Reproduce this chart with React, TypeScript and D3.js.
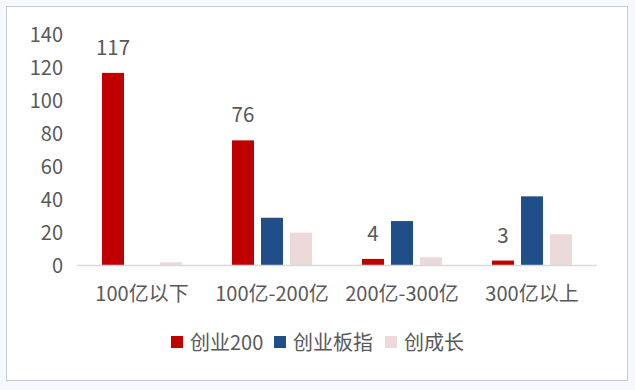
import React from "react";
import * as d3 from "d3";

const categories = ["100亿以下", "100亿-200亿", "200亿-300亿", "300亿以上"];
const seriesNames = ["创业200", "创业板指", "创成长"];
const cy200 = [117, 76, 4, 3];
const cybz = [0, 29, 27, 42];
const ccz = [2, 20, 5, 19];
const yTicks = [0, 20, 40, 60, 80, 100, 120, 140];

const colors = ["#c00000", "#1f4e89", "#ecd9da"];
const FONT = "'Noto Sans CJK SC', 'Noto Sans', sans-serif";
const TEXT = "#595959";

export default function App() {
  const W = 635, H = 390;
  const x = d3.scaleBand<string>().domain(categories).range([77, 597]).paddingInner(0);
  const y = d3.scaleLinear().domain([0, 140]).range([265.5, 35]);
  const series = [cy200, cybz, ccz];
  const barW = 22, step = 29;
  const legendX = [171, 274, 385];

  return (
    <div style={{ position: "absolute", left: 0, top: 0 }}>
      <svg width={W} height={H} style={{ display: "block" }}>
        <rect x={0} y={0} width={W} height={H} fill="#f5f9fd" />
        <rect x={6.5} y={6.5} width={621} height={374} fill="#ffffff" stroke="#c9cbce" strokeWidth={1} />
        {yTicks.map((t) => (
          <text key={t} x={63} y={y(t)} dy="0.35em" textAnchor="end" fontFamily={FONT} fontSize={20} fill={TEXT}>
            {t}
          </text>
        ))}
        {series.map((vals, si) =>
          vals.map((v, ci) => {
            const cx = (x(categories[ci]) as number) + x.bandwidth() / 2;
            const bx = cx - step + si * step - barW / 2;
            return (
              <rect key={si + "-" + ci} x={bx} y={y(v)} width={barW} height={y(0) - y(v)} fill={colors[si]} />
            );
          })
        )}
        <line x1={77} x2={597} y1={y(0)} y2={y(0)} stroke="#d9d9d9" strokeWidth={1.5} />
        {cy200.map((v, ci) => {
          const cx = (x(categories[ci]) as number) + x.bandwidth() / 2 - step;
          return (
            <text key={"l" + ci} x={cx} y={y(v) - 18} textAnchor="middle" fontFamily={FONT} fontSize={20.5} fill={TEXT}>
              {v}
            </text>
          );
        })}
        {categories.map((c) => (
          <text key={c} x={(x(c) as number) + x.bandwidth() / 2} y={301} textAnchor="middle" fontFamily={FONT} fontSize={20} fill={TEXT}>
            {c}
          </text>
        ))}
        {seriesNames.map((n, i) => (
          <g key={n}>
            <rect x={legendX[i]} y={336} width={12} height={12} fill={colors[i]} />
            <text x={legendX[i] + 19} y={350} fontFamily={FONT} fontSize={20} fill={TEXT}>
              {n}
            </text>
          </g>
        ))}
      </svg>
    </div>
  );
}
